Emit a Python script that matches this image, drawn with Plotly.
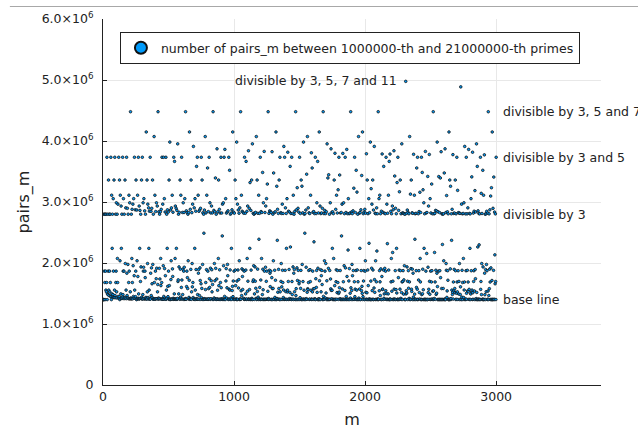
import plotly.graph_objects as go

# ---- data ----
# even gaps m plotted along x
M_START, M_STOP, M_STEP = 2, 3000, 2
M_VALUES = list(range(M_START, M_STOP + 1, M_STEP))
# level of the "base line" (m with no odd prime factor below ~20)
BASE_COUNT = 1.40e6
# odd primes whose presence in m lifts the count by (p-1)/(p-2) (levels)
ODD_PRIMES = [p for p in range(3, 1501, 2) if all(p % d for d in range(3, int(p ** 0.5) + 1, 2))]

PAIRS_M = []
for m in M_VALUES:
    f = 1.0
    for p in ODD_PRIMES:
        if p > m:
            break
        if m % p == 0:
            f *= (p - 1) / (p - 2)
    PAIRS_M.append(BASE_COUNT * f)

Y_TICKS = [0, 1e6, 2e6, 3e6, 4e6, 5e6, 6e6]
Y_TICK_TEXT = ["0", "1.0×10<sup>6</sup>", "2.0×10<sup>6</sup>", "3.0×10<sup>6</sup>",
               "4.0×10<sup>6</sup>", "5.0×10<sup>6</sup>", "6.0×10<sup>6</sup>"]
X_TICKS = [0, 1000, 2000, 3000]

LABELS = ["divisible by 3, 5, 7 and 11", "divisible by 3, 5 and 7",
          "divisible by 3 and 5", "divisible by 3", "base line"]
LABEL_X = [2255, 3040, 3040, 3040, 3040]
LABEL_Y = [5.0e6, 4.48e6, 3.73e6, 2.8e6, 1.4e6]
LABEL_ANCHOR = ["right", "left", "left", "left", "left"]

FONT = "DejaVu Sans, sans-serif"

fig = go.Figure()
fig.add_trace(go.Scatter(
    x=M_VALUES, y=PAIRS_M, mode="markers",
    name="number of pairs_m between 1000000-th and 21000000-th primes",
    marker=dict(size=2.6, color="#009AFA", line=dict(color="#111111", width=0.8)),
))

for t, x, y, a in zip(LABELS, LABEL_X, LABEL_Y, LABEL_ANCHOR):
    fig.add_annotation(x=x, y=y, text=t, showarrow=False, xanchor=a, yanchor="middle",
                       font=dict(family=FONT, size=12.5, color="#222222"))

fig.add_shape(type="line", xref="paper", yref="paper", x0=-0.187, x1=1.08, y0=1.0342, y1=1.0342,
              layer="above", line=dict(color="#a8a8a8", width=1.2))

fig.update_layout(
    width=638, height=431,
    margin=dict(l=103, r=37, t=19, b=46),
    paper_bgcolor="white", plot_bgcolor="white",
    font=dict(family=FONT, size=12, color="#222222"),
    showlegend=True,
    legend=dict(x=0.034, y=0.964, xanchor="left", yanchor="top",
                bordercolor="#222222", borderwidth=1, bgcolor="white",
                font=dict(family=FONT, size=12.5), itemsizing="constant"),
    xaxis=dict(range=[0, 3800], tickvals=X_TICKS, showgrid=True, gridcolor="#e8e8e8", gridwidth=1,
               showline=True, linecolor="#222222", linewidth=1, mirror=False, zeroline=False,
               ticks="inside", ticklen=4, tickcolor="#222222", automargin=False,
               title=dict(text="m", font=dict(size=16), standoff=10),
               tickfont=dict(size=12.5)),
    yaxis=dict(range=[0, 6e6], tickvals=Y_TICKS, ticktext=Y_TICK_TEXT, showgrid=True,
               gridcolor="#e8e8e8", gridwidth=1,
               showline=True, linecolor="#222222", linewidth=1, mirror=False, zeroline=False,
               ticks="inside", ticklen=4, tickcolor="#222222", automargin=False,
               ticklabelstandoff=6,
               title=dict(text="pairs_m", font=dict(size=16), standoff=8),
               tickfont=dict(size=12.5)),
)

fig.write_html("out.html", config={"displayModeBar": False},
               post_script="document.body.style.margin='0';")
